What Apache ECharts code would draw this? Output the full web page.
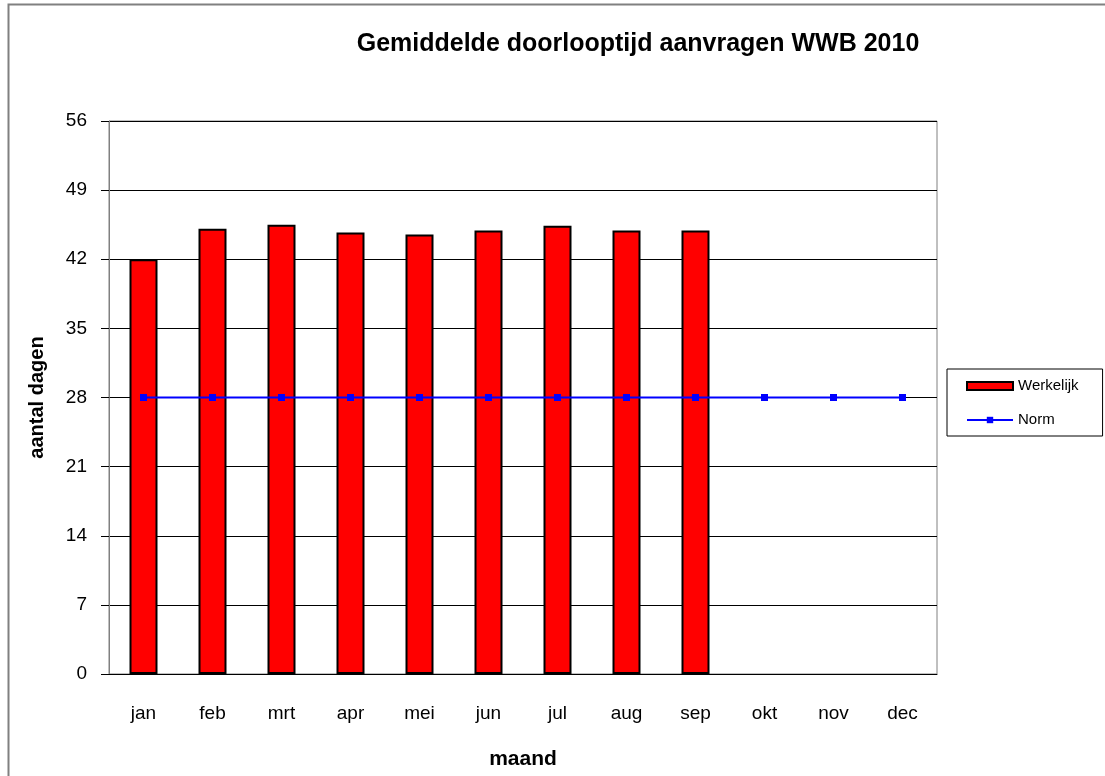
<!DOCTYPE html>
<html><head><meta charset="utf-8">
<script src="https://cdn.jsdelivr.net/npm/echarts@6/dist/echarts.min.js"></script>
<style>html,body{margin:0;padding:0;background:#fff}#c{width:1105px;height:776px}</style>
</head><body><div id="c"></div>
<script>
var categories = ['jan','feb','mrt','apr','mei','jun','jul','aug','sep','okt','nov','dec'];
var werkelijk = [42.0, 45.1, 45.5, 44.7, 44.5, 44.9, 45.4, 44.9, 44.9, null, null, null];
var norm = [28, 28, 28, 28, 28, 28, 28, 28, 28, 28, 28, 28];
var yTicks = [0, 7, 14, 21, 28, 35, 42, 49, 56];

var chart = echarts.init(document.getElementById('c'));
chart.setOption({
  animation: false,
  textStyle: {fontFamily: 'Liberation Sans, Arial, sans-serif', color: '#000'},
  graphic: [{type: 'rect', shape: {x: 8.5, y: 4.5, width: 1110, height: 800}, style: {fill: 'none', stroke: '#808080', lineWidth: 2}, silent: true}],
  title: {text: 'Gemiddelde doorlooptijd aanvragen WWB 2010', left: 633, top: 27, textAlign: 'center',
    textStyle: {fontSize: 25, fontWeight: 'bold', color: '#000', fontFamily: 'Liberation Sans, Arial, sans-serif'}},
  legend: {
    orient: 'vertical', left: 947, top: 369,
    padding: [8, 24, 7, 19], itemGap: 16, itemWidth: 46, itemHeight: 8, itemTextGap: 2,
    borderColor: '#000', borderWidth: 1, backgroundColor: '#fff',
    textStyle: {fontSize: 15, color: '#000', lineHeight: 18},
    data: [{name: 'Werkelijk', icon: 'rect'}, {name: 'Norm'}]
  },
  grid: {left: 109, top: 121, right: 168, bottom: 102, show: true, borderColor: '#808080', borderWidth: 1},
  xAxis: {
    type: 'category', data: categories, name: 'maand', nameLocation: 'middle', nameGap: 75,
    nameTextStyle: {fontSize: 21, fontWeight: 'bold', color: '#000'},
    axisLine: {lineStyle: {color: '#000'}},
    axisTick: {length: 8, lineStyle: {color: '#000'}},
    axisLabel: {fontSize: 19, color: '#000', margin: 30}
  },
  yAxis: {
    type: 'value', min: 0, max: 56, interval: 7, name: 'aantal dagen', nameLocation: 'middle', nameGap: 62,
    nameTextStyle: {fontSize: 20, fontWeight: 'bold', color: '#000'},
    axisLine: {show: true, lineStyle: {color: '#808080'}},
    axisTick: {show: true, inside: false, length: 8, lineStyle: {color: '#000'}},
    axisLabel: {fontSize: 19, color: '#000', margin: 22},
    splitLine: {lineStyle: {color: '#000', width: 1}}
  },
  series: [
    {name: 'Werkelijk', type: 'bar', data: werkelijk, barWidth: 28,
      itemStyle: {color: '#ff0000', borderColor: '#000', borderWidth: 2}},
    {name: 'Norm', type: 'line', data: norm, symbol: 'rect', symbolSize: 7,
      lineStyle: {color: '#0000ff', width: 2}, itemStyle: {color: '#0000ff'}}
  ]
});
</script></body></html>
